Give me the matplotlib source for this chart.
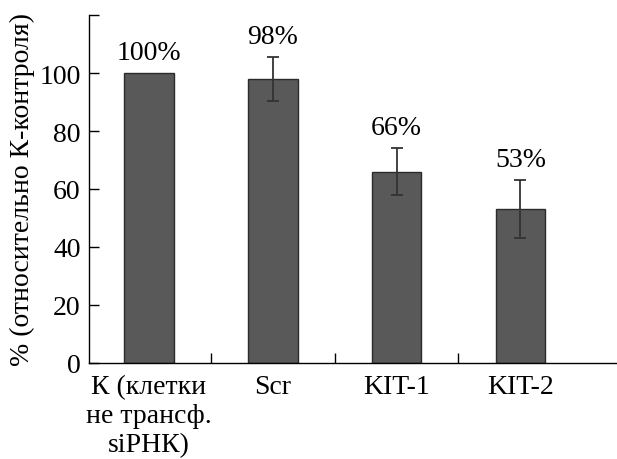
import matplotlib
matplotlib.use("Agg")
import matplotlib.pyplot as plt
import numpy as np

categories = ["К (клетки\nне трансф.\nsiРНК)", "Scr", "KIT-1", "KIT-2"]
values = [100, 98, 66, 53]
errors = [0, 7.6, 8.2, 10]
value_labels = ["100%", "98%", "66%", "53%"]

bar_color = '#595959'
edge_color = '#2b2b2b'
font_size = 20

plt.rcParams['font.family'] = ['Liberation Serif', 'DejaVu Serif']
plt.rcParams['font.size'] = font_size

fig = plt.figure(figsize=(6.17, 4.60), dpi=100)
ax = fig.add_axes([0.144, 0.209, 0.856, 0.756])

x = np.arange(len(categories))
ax.bar(x, values, 0.4, color=bar_color, edgecolor=edge_color, linewidth=1.0, zorder=2)
for xi, v, e in zip(x, values, errors):
    if e > 0:
        ax.errorbar(xi, v, yerr=e, fmt='none', ecolor='#333333', elinewidth=1.3,
                    capsize=4, capthick=1.3, zorder=3)

for xi, v, e, lab in zip(x, values, errors, value_labels):
    ax.text(xi, v + e + 2.8, lab, ha='center', va='bottom', fontsize=font_size)

ax.set_xlim(-0.485, 3.78)
ax.set_ylim(0, 120)
ax.set_yticks(np.arange(0, 121, 20))
ax.set_yticklabels([str(t) if t <= 100 else '' for t in range(0, 121, 20)])
ax.tick_params(axis='y', direction='in', length=7, width=1.0, labelsize=font_size, pad=6)

# category labels centred under the bars, ticks sit between the groups
ax.set_xticks(x)
ax.set_xticklabels(categories, linespacing=1.2)
ax.tick_params(axis='x', which='major', length=0, labelsize=font_size, pad=8)
ax.set_xticks([0.5, 1.5, 2.5], minor=True)
ax.tick_params(axis='x', which='minor', direction='in', length=7, width=1.0)

ax.spines['top'].set_visible(False)
ax.spines['right'].set_visible(False)
ax.spines['left'].set_linewidth(1.0)
ax.spines['bottom'].set_linewidth(1.0)

ax.set_ylabel('% (относительно К-контроля)', fontsize=20, labelpad=3)

fig.savefig('out.png', dpi=100)
